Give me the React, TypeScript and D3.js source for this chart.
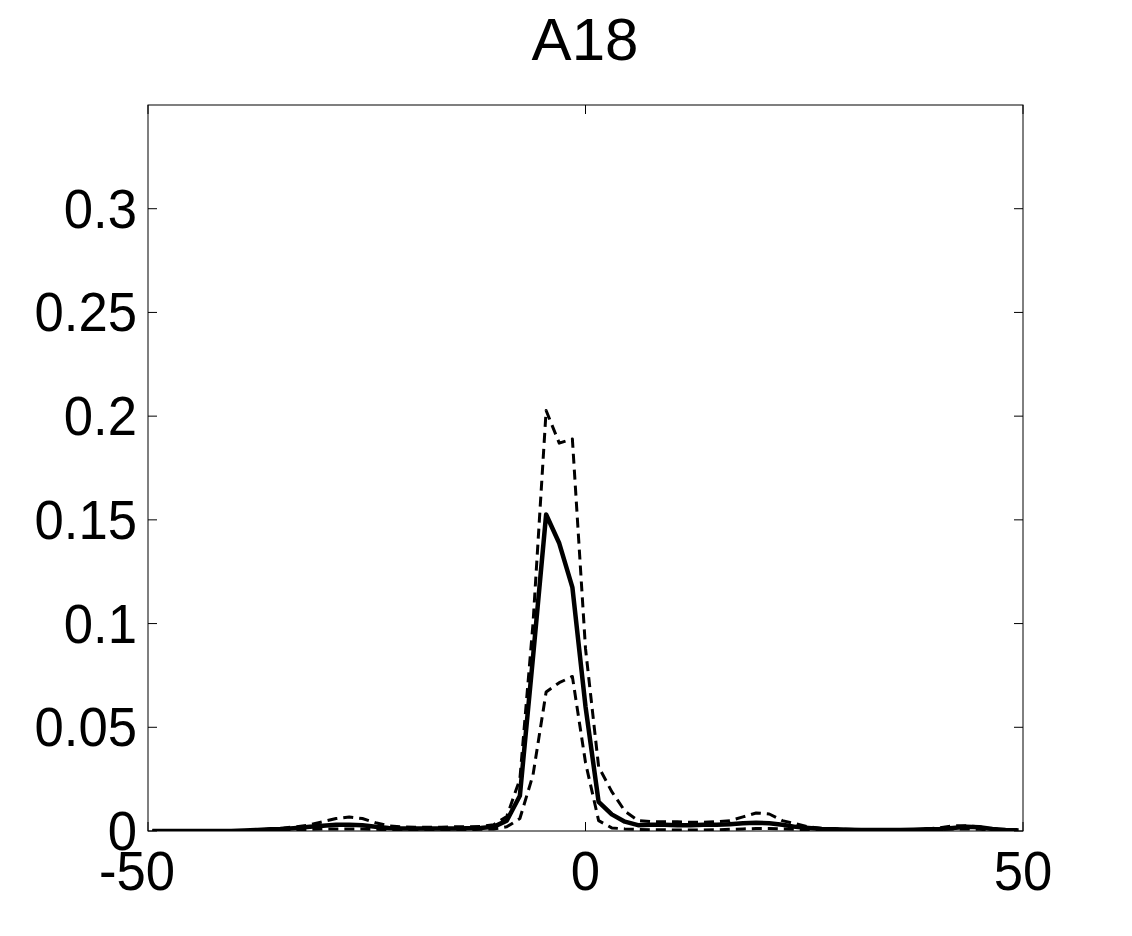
import React from "react";
import * as d3 from "d3";

// x grid (bin centres, step 1.5 from -49.5 to 49.5)
const xValues: number[] = d3.range(-33, 34).map((k) => k * 1.5);

// mean (solid)
const meanSeries: number[] = [
  0, 0, 0, 0, 0, 0, 0, 0.0002,
  0.0005, 0.0008, 0.001, 0.0015, 0.002, 0.0025, 0.003, 0.003, 0.0028, 0.002, 0.0015,
  0.0012, 0.0012, 0.0012, 0.0012, 0.0012, 0.0013, 0.0015, 0.002,
  0.005, 0.017, 0.0838, 0.1526, 0.1387, 0.1175, 0.06, 0.014, 0.008, 0.0045, 0.0028,
  0.003, 0.003, 0.0028, 0.0028, 0.003, 0.003, 0.0033,
  0.0037, 0.004, 0.0037, 0.003, 0.002, 0.0015, 0.001,
  0.0008, 0.0006, 0.0005, 0.0005, 0.0005, 0.0005, 0.0006, 0.0008, 0.001, 0.0015, 0.002, 0.0018, 0.001, 0.0005, 0.0003,
];

// upper bound (dashed)
const upperSeries: number[] = [
  0, 0, 0, 0, 0, 0, 0, 0.0002,
  0.0005, 0.001, 0.0015, 0.002, 0.003, 0.0045, 0.006, 0.0068, 0.006, 0.004, 0.0025,
  0.002, 0.0018, 0.0018, 0.0018, 0.002, 0.002, 0.0022, 0.003,
  0.007, 0.025, 0.1, 0.2027, 0.187, 0.189, 0.088, 0.031, 0.019, 0.0096, 0.005,
  0.0045, 0.0045, 0.0045, 0.0042, 0.0042, 0.0045, 0.005,
  0.0068, 0.0087, 0.0082, 0.005, 0.0035, 0.002, 0.0012,
  0.001, 0.0008, 0.0006, 0.0005, 0.0005, 0.0005, 0.0006, 0.001, 0.0015, 0.0025, 0.0025, 0.002, 0.001, 0.0005, 0.0002,
];

// lower bound (dashed)
const lowerSeries: number[] = [
  0, 0, 0, 0, 0, 0, 0, 0.0001,
  0.0003, 0.0004, 0.0005, 0.0006, 0.0008, 0.001, 0.001, 0.001, 0.001, 0.0008, 0.0006,
  0.0005, 0.0005, 0.0005, 0.0005, 0.0005, 0.0006, 0.0008, 0.001,
  0.002, 0.006, 0.027, 0.067, 0.0715, 0.0745, 0.033, 0.005, 0.0015, 0.001, 0.0008,
  0.0006, 0.0006, 0.0005, 0.0005, 0.0005, 0.0006, 0.0008,
  0.001, 0.0012, 0.0012, 0.001, 0.0008, 0.0005, 0.0003,
  0.0002, 0.0002, 0.0002, 0.0002, 0.0002, 0.0002, 0.0003, 0.0005, 0.0008, 0.001, 0.001, 0.0008, 0.0005, 0.0003, 0.0001,
];

const xTicks: number[] = [-50, 0, 50];
const yTicks: number[] = [0, 0.05, 0.1, 0.15, 0.2, 0.25, 0.3];
const yTickLabels: string[] = ["0", "0.05", "0.1", "0.15", "0.2", "0.25", "0.3"];
const title = "A18";

const W = 1132;
const H = 936;
const left = 148;
const right = 1023;
const top = 105;
const bottom = 831;
const FONT = "'Liberation Sans', Arial, Helvetica, sans-serif";
const SX = 0.94;

export default function App() {
  const x = d3.scaleLinear().domain([-50, 50]).range([left, right]);
  const y = d3.scaleLinear().domain([0, 0.35]).range([bottom, top]);
  const line = (vals: number[]) =>
    d3
      .line<number>()
      .x((_, i) => x(xValues[i]))
      .y((d) => y(d))(vals) || "";

  const tickLen = 9;

  return (
    <svg
      width={W}
      height={H}
      style={{ position: "absolute", left: 0, top: 0, background: "#fff" }}
      fontFamily={FONT}
    >
      <rect x={0} y={0} width={W} height={H} fill="#fff" />
      <defs>
        <clipPath id="plotclip">
          <rect x={left} y={top} width={right - left} height={bottom - top} />
        </clipPath>
      </defs>

      {/* box */}
      <rect
        x={left}
        y={top}
        width={right - left}
        height={bottom - top}
        fill="none"
        stroke="#000"
        strokeWidth={1}
      />

      {/* y ticks */}
      {yTicks.map((t, i) => (
        <g key={"y" + i}>
          <line x1={left} x2={left + tickLen} y1={y(t)} y2={y(t)} stroke="#000" />
          <line x1={right} x2={right - tickLen} y1={y(t)} y2={y(t)} stroke="#000" />
          <text
            transform={`translate(137,${y(t)}) scale(${SX},1)`}
            dy="0.34em"
            textAnchor="end"
            fontSize={56}
            fill="#000"
          >
            {yTickLabels[i]}
          </text>
        </g>
      ))}

      {/* x ticks */}
      {xTicks.map((t, i) => (
        <g key={"x" + i}>
          <line x1={x(t)} x2={x(t)} y1={bottom} y2={bottom - tickLen} stroke="#000" />
          <line x1={x(t)} x2={x(t)} y1={top} y2={top + tickLen} stroke="#000" />
          <text
            transform={`translate(${x(t) + (t < 0 ? -11 : 0)},890) scale(${SX},1)`}
            textAnchor="middle"
            fontSize={56}
            fill="#000"
          >
            {t}
          </text>
        </g>
      ))}

      <g clipPath="url(#plotclip)" fill="none" strokeLinejoin="round">
        <path d={line(upperSeries)} stroke="#000" strokeWidth={3} strokeDasharray="10,6" />
        <path d={line(lowerSeries)} stroke="#000" strokeWidth={3} strokeDasharray="10,6" />
        <path d={line(meanSeries)} stroke="#000" strokeWidth={4.5} />
      </g>

      <text x={585} y={60} textAnchor="middle" fontSize={60} fill="#000">
        {title}
      </text>
    </svg>
  );
}
